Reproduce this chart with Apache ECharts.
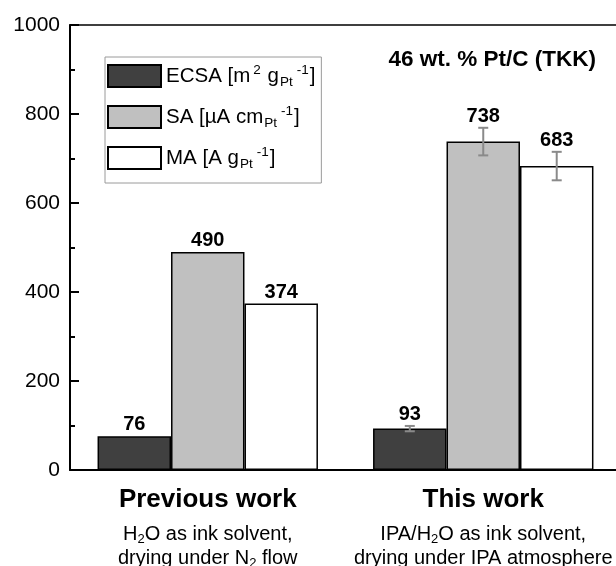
<!DOCTYPE html>
<html>
<head>
<meta charset="utf-8">
<script src="https://cdn.jsdelivr.net/npm/echarts@6/dist/echarts.min.js"></script>
<style>
  html, body { margin: 0; padding: 0; background: #fff; }
  #chart { width: 616px; height: 566px; }
</style>
</head>
<body>
<div id="chart"></div>
<script>
// Catalyst activity: ECSA, specific activity and mass activity for two ink recipes
const categories = ['Previous work', 'This work'];
const categoryNotes = [
  ['H<sub>2</sub>O as ink solvent,', 'drying under N<sub>2</sub> flow'],
  ['IPA/H<sub>2</sub>O as ink solvent,', 'drying under IPA atmosphere']
];
const seriesNames = ['ECSA', 'SA', 'MA'];
const legendLabels = {
  ECSA: 'ECSA [m<sup>2</sup> g<sub>Pt</sub><sup>-1</sup>]',
  SA: 'SA [µA cm<sub>Pt</sub><sup>-1</sup>]',
  MA: 'MA [A g<sub>Pt</sub><sup>-1</sup>]'
};
const ecsaValues = [76, 93];
const saValues = [490, 738];
const maValues = [374, 683];
// standard deviations (null = no error bar reported)
const ecsaErrors = [null, 6];
const saErrors = [null, 31];
const maErrors = [null, 32];
const yTicks = [0, 200, 400, 600, 800, 1000];
const panelTitle = '46 wt. % Pt/C (TKK)';

const FONT = '"Liberation Sans", Arial, Helvetica, sans-serif';
const fills = ['#404040', '#c0c0c0', '#ffffff'];

// turn <sub>/<sup> markup into ECharts rich-text tokens
function toRich(str, base, sub, sup) {
  const parts = str.split(/(<sub>.*?<\/sub>|<sup>.*?<\/sup>)/).filter(s => s.length);
  return parts.map(p => {
    let m = p.match(/^<sub>(.*)<\/sub>$/);
    if (m) return '{' + sub + '|' + m[1] + '}';
    m = p.match(/^<sup>(.*)<\/sup>$/);
    if (m) return '{' + sup + '|' + m[1] + '}';
    return '{' + base + '|' + p + '}';
  }).join('');
}

const valueSets = [ecsaValues, saValues, maValues];
const errorSets = [ecsaErrors, saErrors, maErrors];

const barSeries = seriesNames.map((name, i) => ({
  name: name,
  type: 'bar',
  data: valueSets[i],
  barGap: '0%',
  barCategoryGap: '20%',
  itemStyle: { color: fills[i], borderColor: '#000', borderWidth: 1.5 },
  emphasis: { disabled: true },
  z: 2
}));

// error bars and value labels, placed over each bar
const overlayData = [];
seriesNames.forEach((name, s) => {
  categories.forEach((c, j) => {
    const e = errorSets[s][j];
    overlayData.push([j, valueSets[s][j], e == null ? 0 : e, s]);
  });
});

const overlaySeries = {
  type: 'custom',
  data: overlayData,
  encode: { x: 0, y: 1 },
  clip: false,
  z: 5,
  silent: true,
  renderItem: function (params, api) {
    const j = api.value(0), v = api.value(1), e = api.value(2), s = api.value(3);
    const band = api.size([1, 0])[0];
    const bw = band * 0.8 / 3;
    const c = api.coord([j, v]);
    const x = c[0] + (s - 1) * bw;
    const children = [];
    let topY = c[1];
    if (e > 0) {
      const yHi = api.coord([j, v + e])[1];
      const yLo = api.coord([j, v - e])[1];
      const cap = 5;
      const st = { stroke: '#8a8a8a', lineWidth: 2 };
      children.push({ type: 'line', shape: { x1: x, y1: yHi, x2: x, y2: yLo }, style: st });
      children.push({ type: 'line', shape: { x1: x - cap, y1: yHi, x2: x + cap, y2: yHi }, style: st });
      children.push({ type: 'line', shape: { x1: x - cap, y1: yLo, x2: x + cap, y2: yLo }, style: st });
      topY = yHi;
    }
    children.push({
      type: 'text',
      style: {
        x: x, y: topY - 11.5,
        text: String(v),
        align: 'center', verticalAlign: 'middle',
        font: 'bold 20px ' + FONT,
        fill: '#000'
      }
    });
    return { type: 'group', children: children };
  }
};

const chart = echarts.init(document.getElementById('chart'), null, { renderer: 'canvas' });

chart.setOption({
  backgroundColor: '#fff',
  animation: false,
  title: {
    text: panelTitle,
    right: 15,
    top: 43,
    textStyle: { fontFamily: FONT, fontSize: 22.5, fontWeight: 'bold', color: '#000' }
  },
  legend: {
    data: seriesNames,
    orient: 'vertical',
    left: 105,
    top: 57,
    itemWidth: 53,
    itemHeight: 22,
    itemGap: 15,
    padding: [6, 6, 12, 2],
    borderColor: '#9a9a9a',
    borderWidth: 1,
    backgroundColor: '#fff',
    selectedMode: false,
    icon: 'rect',
    formatter: name => toRich(legendLabels[name], 'b', 'sb', 'sp'),
    textStyle: {
      fontFamily: FONT,
      color: '#000',
      rich: {
        b: { fontFamily: FONT, fontSize: 20.5, color: '#000', lineHeight: 24 },
        sb: { fontFamily: FONT, fontSize: 13.5, color: '#000', lineHeight: 26, verticalAlign: 'bottom', padding: [0, 1, 0, 1] },
        sp: { fontFamily: FONT, fontSize: 13.5, color: '#000', lineHeight: 26, verticalAlign: 'top', padding: [0, 1, 0, 3] }
      }
    }
  },
  grid: { left: 70, right: -5, top: 25, bottom: 96, containLabel: false, outerBoundsMode: 'none' },
  xAxis: [
    {
      type: 'category',
      data: categories,
      axisLine: { lineStyle: { color: '#000', width: 2 } },
      axisTick: { show: false },
      axisLabel: {
        interval: 0,
        margin: 7,
        formatter: function (value, idx) {
          const notes = categoryNotes[idx].map(l => toRich(l, 'd', 'ds', 'd')).join('\n');
          return '{t|' + value + '}\n' + notes;
        },
        rich: {
          t: { fontFamily: FONT, fontSize: 26, fontWeight: 'bold', color: '#000', lineHeight: 45 },
          d: { fontFamily: FONT, fontSize: 20, color: '#000', lineHeight: 24 },
          ds: { fontFamily: FONT, fontSize: 13, color: '#000', lineHeight: 24, verticalAlign: 'bottom' }
        }
      }
    },
    {
      type: 'category',
      position: 'top',
      data: categories,
      axisLine: { lineStyle: { color: '#000', width: 1.5 } },
      axisTick: { show: false },
      axisLabel: { show: false }
    }
  ],
  yAxis: {
    type: 'value',
    min: yTicks[0],
    max: yTicks[yTicks.length - 1],
    interval: yTicks[1] - yTicks[0],
    axisLine: { show: true, lineStyle: { color: '#000', width: 2 } },
    axisTick: { show: true, inside: true, length: 9, lineStyle: { color: '#000', width: 2 } },
    minorTick: { show: true, splitNumber: 2, length: 5, lineStyle: { color: '#000', width: 2 } },
    splitLine: { show: false },
    axisLabel: { fontFamily: FONT, fontSize: 21, color: '#000', margin: 10, formatter: v => String(v) }
  },
  series: barSeries.concat([overlaySeries])
});
</script>
</body>
</html>
